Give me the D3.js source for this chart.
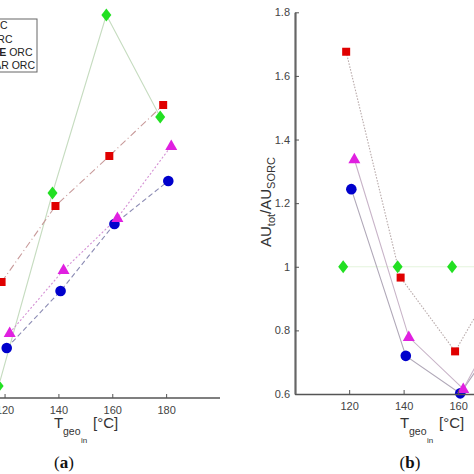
<!DOCTYPE html>
<html><head><meta charset="utf-8">
<script src="https://cdn.jsdelivr.net/npm/d3@7"></script>
<style>html,body{margin:0;padding:0;background:#fff;overflow:hidden}</style>
</head><body>
<svg id="c" width="474" height="474"></svg>
<script>
// ---- data ----
const temps = [120, 140, 160, 180];
const seriesNames = ["SORC", "RORC", "TWO-STAGE ORC", "TWO-STAGE PAR ORC"];
// panel (a): absolute values (y axis not visible in the crop)
const aSORC = [1.55, 3.48, 5.26, 4.24];
const aRORC = [2.59, 3.35, 3.85, 4.36];
const aTS   = [1.93, 2.50, 3.17, 3.60];
const aTSP  = [2.08, 2.71, 3.23, 3.95];
// panel (b): AU_tot / AU_SORC
const bSORC = [1.0, 1.0, 1.0, 1.0];
const bRORC = [1.676, 0.966, 0.734, 1.03];
const bTS   = [1.244, 0.720, 0.602, 0.85];
const bTSP  = [1.338, 0.779, 0.616, 0.93];
const xTicks = [120, 140, 160, 180];
const yTicksB = [0.6, 0.8, 1.0, 1.2, 1.4, 1.6, 1.8];

// ---- styles ----
const styles = [
  {fill:"#22e022", line:"#c6dcc0", dashA:null, lineB:"#e4f4dc", dashB:null, shape:"diamond", dx:-2.2},
  {fill:"#e00000", line:"#c89a9a", dashA:"7,3,1,3", lineB:"#b8aaaa", dashB:"1.5,1.5", shape:"square", dx:-1.1},
  {fill:"#0000cc", line:"#8c8cb4", dashA:"5,3", lineB:"#b0a8b8", dashB:null, shape:"circle", dx:0.8},
  {fill:"#e020e0", line:"#d490d4", dashA:"2,2", lineB:"#c8b4c8", dashB:null, shape:"triangle", dx:1.9}
];
const font = "'Liberation Sans', Arial, Helvetica, sans-serif";
const svg = d3.select("#c").style("font-family", font);

function marker(g, shape, x, y, fill) {
  if (shape === "diamond") {
    g.append("path").attr("d", `M${x},${y-6.5}L${x+5},${y}L${x},${y+6.5}L${x-5},${y}Z`).attr("fill", fill);
  } else if (shape === "square") {
    g.append("rect").attr("x", x-4).attr("y", y-4).attr("width", 8).attr("height", 8).attr("fill", fill);
  } else if (shape === "circle") {
    g.append("circle").attr("cx", x).attr("cy", y).attr("r", 5.3).attr("fill", fill);
  } else {
    g.append("path").attr("d", `M${x},${y-6.5}L${x+6},${y+4}L${x-6},${y+4}Z`).attr("fill", fill);
  }
}

// ================= Panel (a) =================
const xA = d3.scaleLinear().domain([100, 200]).range([-49.3, 220]);
const yA = d3.scaleLinear().domain([1.43, 5.28]).range([398, 13]);
const gA = svg.append("g");
const dataA = [aSORC, aRORC, aTS, aTSP];
dataA.forEach((vals, i) => {
  const st = styles[i];
  const pts = temps.map((t, k) => [xA(t + st.dx), yA(vals[k])]);
  gA.append("path").attr("d", d3.line()(pts)).attr("fill", "none")
    .attr("stroke", st.line).attr("stroke-width", 1.1)
    .attr("stroke-dasharray", st.dashA);
});
dataA.forEach((vals, i) => {
  const st = styles[i];
  temps.forEach((t, k) => marker(gA, st.shape, xA(t + st.dx), yA(vals[k]), st.fill));
});
const axA = gA.append("g").attr("transform", "translate(0,398)")
  .call(d3.axisBottom(xA).tickValues(xTicks).tickSize(-4).tickPadding(8).tickSizeOuter(0));
axA.select(".domain").attr("stroke", "#555").attr("stroke-width", 1.6).attr("d", "M0,0H220");
axA.selectAll(".tick line").attr("stroke", "#555");
axA.selectAll(".tick text").attr("font-size", 11).attr("fill", "#444").attr("font-family", font);

// legend (a)
const leg = gA.append("g");
leg.append("rect").attr("x", -10).attr("y", 19).attr("width", 47).attr("height", 53)
  .attr("fill", "#fff").attr("stroke", "#666").attr("stroke-width", 1);
const legEnds = [7.5, 12.5, 32.5, 35];
const legY = [29, 42.5, 56, 69];
seriesNames.forEach((n, i) => {
  const t = leg.append("text").attr("x", legEnds[i]).attr("y", legY[i]).attr("text-anchor", "end")
    .attr("font-size", 10.5).attr("fill", "#222");
  if (i === 2) {
    t.append("tspan").text("TWO-STAG");
    t.append("tspan").attr("font-weight", "bold").text("E");
    t.append("tspan").text(" ORC");
  } else t.text(n);
});

// x label
function xLabel(g, x0, yb) {
  g.append("text").attr("x", x0).attr("y", yb).attr("font-size", 15).attr("fill", "#333").text("T");
  g.append("text").attr("x", x0 + 9).attr("y", yb + 7).attr("font-size", 10.5).attr("fill", "#333").text("geo");
  g.append("text").attr("x", x0 + 27).attr("y", yb + 15).attr("font-size", 8).attr("fill", "#333").text("in");
  g.append("text").attr("x", x0 + 39).attr("y", yb).attr("font-size", 15).attr("fill", "#333").text("[°C]");
}
xLabel(gA, 54, 428);
gA.append("text").attr("x", 64).attr("y", 468).attr("text-anchor", "middle")
  .attr("font-family", "'Liberation Serif', 'Times New Roman', serif").attr("font-size", 17)
  .attr("fill", "#111").html('(<tspan font-weight="bold">a</tspan>)');

// ================= Panel (b) =================
const xB = d3.scaleLinear().domain([100, 200]).range([294.7, 567]);
const yB = d3.scaleLinear().domain([0.6, 1.8]).range([394, 12.3]);
const gB = svg.append("g");
const dataB = [bSORC, bRORC, bTS, bTSP];
dataB.forEach((vals, i) => {
  const st = styles[i];
  const pts = temps.map((t, k) => [xB(t + st.dx), yB(vals[k])]);
  gB.append("path").attr("d", d3.line()(pts)).attr("fill", "none")
    .attr("stroke", st.lineB).attr("stroke-width", 1.1)
    .attr("stroke-dasharray", st.dashB);
});
dataB.forEach((vals, i) => {
  const st = styles[i];
  temps.forEach((t, k) => marker(gB, st.shape, xB(t + st.dx), yB(vals[k]), st.fill));
});
const axBx = gB.append("g").attr("transform", "translate(0,394)")
  .call(d3.axisBottom(xB).tickValues(xTicks).tickSize(-4).tickPadding(8).tickSizeOuter(0));
axBx.select(".domain").attr("stroke", "#555").attr("stroke-width", 1.6);
axBx.selectAll(".tick line").attr("stroke", "#555");
axBx.selectAll(".tick text").attr("font-size", 11).attr("fill", "#444").attr("font-family", font);
const axBy = gB.append("g").attr("transform", "translate(295,0)")
  .call(d3.axisLeft(yB).tickValues(yTicksB).tickFormat(d => d === 1 ? "1" : d3.format(".1f")(d))
    .tickSize(-4).tickPadding(5).tickSizeOuter(0));
axBy.select(".domain").attr("stroke", "#666").attr("stroke-width", 2.2);
axBy.selectAll(".tick line").attr("stroke", "#555");
axBy.selectAll(".tick text").attr("font-size", 11).attr("fill", "#444").attr("font-family", font);

// y label (b)
const yl = gB.append("text").attr("transform", "translate(271,247) rotate(-90)")
  .attr("font-size", 15).attr("fill", "#333");
yl.append("tspan").text("AU");
yl.append("tspan").attr("font-size", 11).attr("dy", 4).text("tot");
yl.append("tspan").attr("dy", -4).text("/AU");
yl.append("tspan").attr("font-size", 11).attr("dy", 4).text("SORC");

xLabel(gB, 400, 428);
gB.append("text").attr("x", 410).attr("y", 468).attr("text-anchor", "middle")
  .attr("font-family", "'Liberation Serif', 'Times New Roman', serif").attr("font-size", 17)
  .attr("fill", "#111").html('(<tspan font-weight="bold">b</tspan>)');
</script>
</body></html>
